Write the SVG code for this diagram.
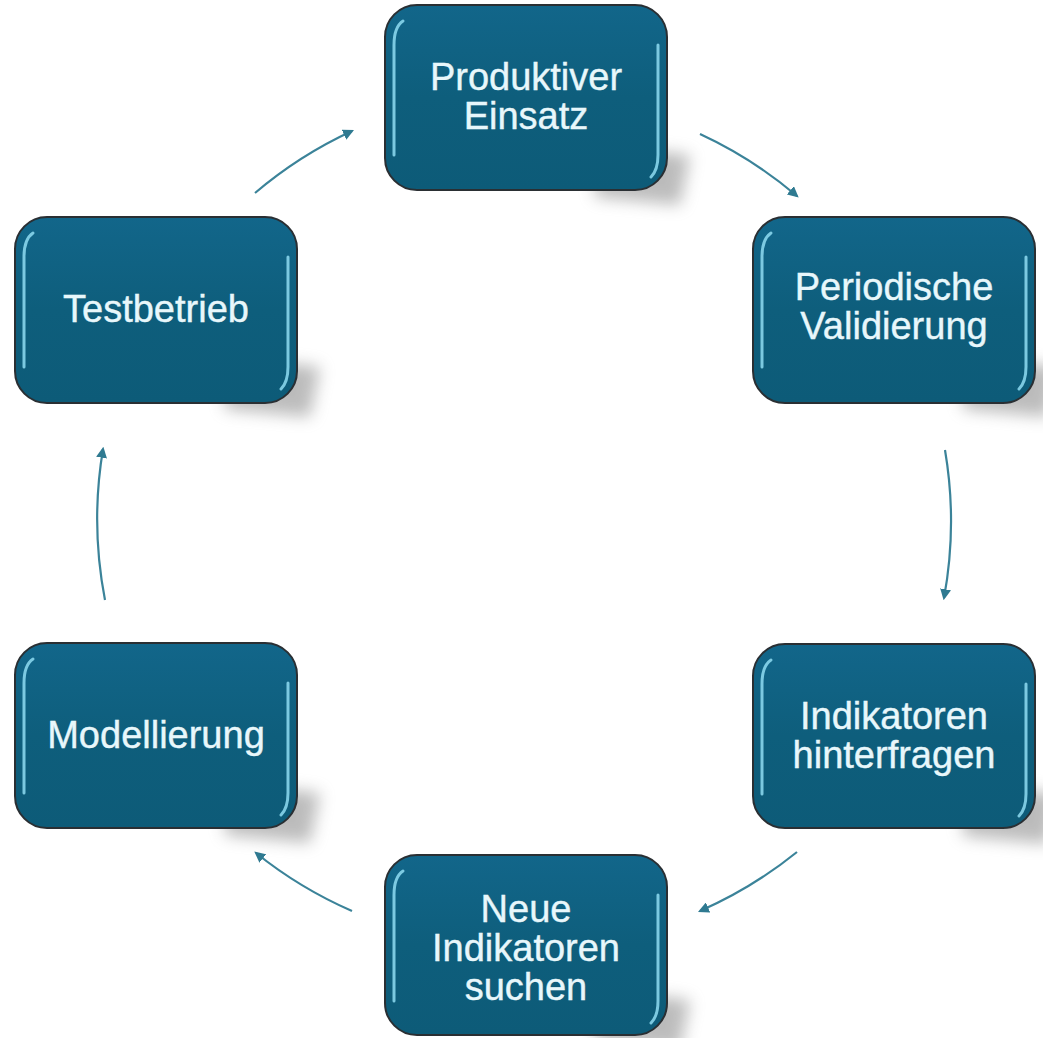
<svg xmlns="http://www.w3.org/2000/svg" width="1043" height="1038" viewBox="0 0 1043 1038">
  <defs>
    <style>
      .box { fill: url(#boxgrad); stroke: #2a2f33; stroke-width: 2; }
      .hl { fill: none; stroke: #8fdcf2; stroke-width: 3; stroke-linecap: round; opacity: 0.85; }
      .shadow { fill: #7a7a7a; opacity: 0.5; filter: url(#blur); }
      .label { font-family: "Liberation Sans", Arial, sans-serif; font-size: 38px; fill: #e8f7fb; text-anchor: middle; stroke: #e8f7fb; stroke-width: 0.4; }
      .conn { fill: none; stroke: #3b8399; stroke-width: 2.2; marker-end: url(#arrow); }
    </style>
    <linearGradient id="boxgrad" x1="0" y1="0" x2="0" y2="1">
      <stop offset="0" stop-color="#12668a"/>
      <stop offset="0.5" stop-color="#0e5e7c"/>
      <stop offset="1" stop-color="#0d5b78"/>
    </linearGradient>
    <filter id="blur" x="-30%" y="-30%" width="160%" height="160%">
      <feGaussianBlur stdDeviation="8"/>
    </filter>
    <marker id="arrow" viewBox="0 0 10 10" refX="8" refY="5" markerWidth="5" markerHeight="5" orient="auto" markerUnits="strokeWidth">
      <path d="M0,0 L10,5 L0,10 z" fill="#2f7a91"/>
    </marker>
  </defs>

  <g id="node-produktiver-einsatz" transform="translate(385,5)">
    <path class="shadow" d="M210,140 L305,150 L295,200 L210,192 z"/>
    <rect class="box" x="0" y="0" width="282" height="185" rx="32" ry="32"/>
    <path class="hl" d="M9,40 Q9,22 18,16 M9,40 L9,150 M273,40 L273,150 M273,150 Q273,165 266,172"/>
    <text class="label" x="141" y="85">Produktiver</text>
    <text class="label" x="141" y="124">Einsatz</text>
  </g>

  <g id="node-periodische-validierung" transform="translate(753,217)">
    <path class="shadow" d="M210,140 L305,150 L295,200 L210,192 z"/>
    <rect class="box" x="0" y="0" width="282" height="186" rx="32" ry="32"/>
    <path class="hl" d="M9,40 Q9,22 18,16 M9,40 L9,150 M273,40 L273,150 M273,150 Q273,165 266,172"/>
    <text class="label" x="141" y="83">Periodische</text>
    <text class="label" x="141" y="122">Validierung</text>
  </g>

  <g id="node-indikatoren-hinterfragen" transform="translate(753,644)">
    <path class="shadow" d="M210,140 L305,150 L295,200 L210,192 z"/>
    <rect class="box" x="0" y="0" width="282" height="184" rx="32" ry="32"/>
    <path class="hl" d="M9,40 Q9,22 18,16 M9,40 L9,150 M273,40 L273,150 M273,150 Q273,165 266,172"/>
    <text class="label" x="141" y="85">Indikatoren</text>
    <text class="label" x="141" y="124">hinterfragen</text>
  </g>

  <g id="node-neue-indikatoren-suchen" transform="translate(385,855)">
    <path class="shadow" d="M210,135 L305,145 L295,195 L210,187 z"/>
    <rect class="box" x="0" y="0" width="282" height="180" rx="32" ry="32"/>
    <path class="hl" d="M9,40 Q9,22 18,16 M9,40 L9,146 M273,40 L273,146 M273,146 Q273,161 266,168"/>
    <text class="label" x="141" y="67">Neue</text>
    <text class="label" x="141" y="106">Indikatoren</text>
    <text class="label" x="141" y="145">suchen</text>
  </g>

  <g id="node-modellierung" transform="translate(15,643)">
    <path class="shadow" d="M210,140 L305,150 L295,200 L210,192 z"/>
    <rect class="box" x="0" y="0" width="282" height="185" rx="32" ry="32"/>
    <path class="hl" d="M9,40 Q9,22 18,16 M9,40 L9,150 M273,40 L273,150 M273,150 Q273,165 266,172"/>
    <text class="label" x="141" y="105">Modellierung</text>
  </g>

  <g id="node-testbetrieb" transform="translate(15,217)">
    <path class="shadow" d="M210,140 L305,150 L295,200 L210,192 z"/>
    <rect class="box" x="0" y="0" width="282" height="186" rx="32" ry="32"/>
    <path class="hl" d="M9,40 Q9,22 18,16 M9,40 L9,150 M273,40 L273,150 M273,150 Q273,165 266,172"/>
    <text class="label" x="141" y="105">Testbetrieb</text>
  </g>

  <g id="connectors">
    <path class="conn" d="M255,193 A425,425 0 0 1 352,131"/>
    <path class="conn" d="M700,134 A425,425 0 0 1 797,196"/>
    <path class="conn" d="M945,450 A425,425 0 0 1 944,598"/>
    <path class="conn" d="M797,852 A425,425 0 0 1 700,911"/>
    <path class="conn" d="M352,911 A425,425 0 0 1 256,853"/>
    <path class="conn" d="M105,600 A425,425 0 0 1 103,449"/>
  </g>
</svg>
